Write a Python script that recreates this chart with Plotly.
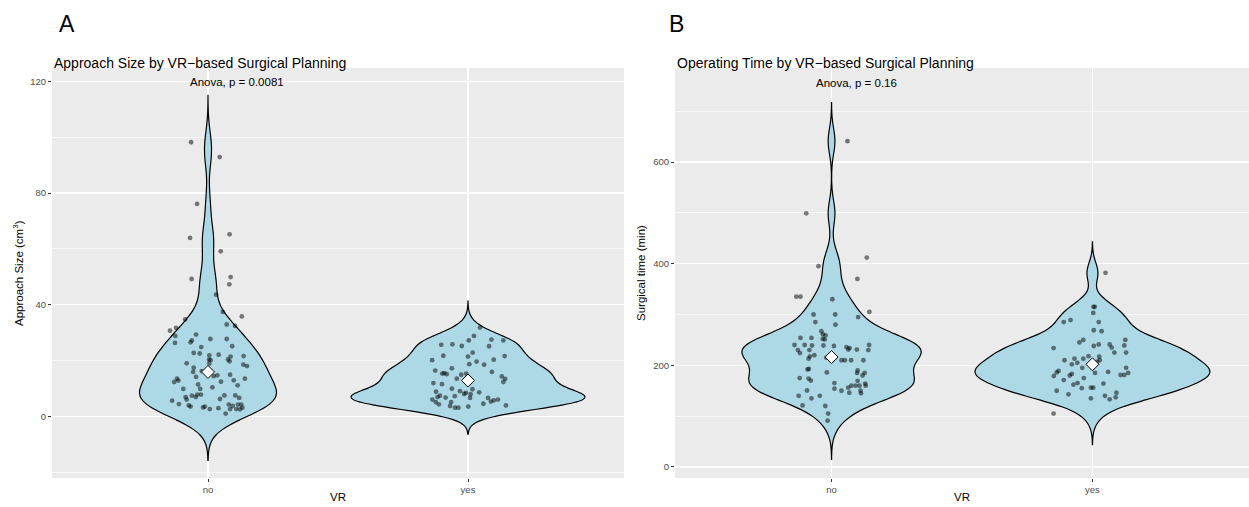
import numpy as np
import plotly.graph_objects as go

groups = ["no", "yes"]

# Panel A: approach size (cm^3)
approach_no = [98.2, 92.9, 76.1, 63.9, 65.2, 59.1, 49.2, 49.9, 47.3, 43.6,
               35.8, 34.7, 37.4, 30.7, 31.7, 28.8, 26.3, 32.9, 32.4, 29.3,
               27.2, 26.5, 27.7, 27.7, 25.1, 24.8, 22.7, 22.5, 21.8, 22.1,
               21.4, 21.6, 20.3, 20.1, 20.4, 19.7, 19.0, 18.9, 18.5, 18.0,
               17.4, 15.9, 16.2, 14.7, 14.4, 14.9, 13.5, 12.8, 12.3, 14.1,
               12.4, 12.9, 13.5, 11.4, 10.4, 11.1, 9.8, 9.8, 7.8, 7.8,
               7.4, 6.9, 6.0, 5.6, 6.9, 6.2, 7.5, 7.5, 6.6, 4.4,
               3.9, 3.5, 3.2, 3.5, 2.6, 2.9, 1.0, 4.2, 3.7, 2.6,
               4.2, 4.2, 3.1, 2.5, 2.6]
approach_no_jitter = [-0.065, 0.045, -0.042, -0.069, 0.083, 0.049, -0.063, 0.087, 0.082, 0.031,
                      0.130, -0.088, 0.057, -0.146, -0.123, -0.126, -0.127, 0.072, 0.104, -0.046,
                      -0.062, -0.067, 0.009, 0.072, 0.093, -0.026, -0.055, -0.032, 0.005, 0.041,
                      0.087, 0.137, 0.004, 0.010, 0.077, 0.083, -0.082, 0.005, 0.136, 0.150,
                      -0.055, -0.057, -0.024, 0.036, 0.022, 0.085, -0.119, -0.114, -0.130, -0.046,
                      0.050, 0.099, 0.142, -0.038, 0.017, 0.114, -0.095, -0.030, -0.041, -0.027,
                      -0.062, -0.086, -0.082, -0.138, -0.047, 0.046, 0.063, 0.105, 0.120, -0.112,
                      -0.074, -0.067, -0.019, -0.012, 0.007, 0.040, 0.068, 0.080, 0.095, 0.109,
                      0.115, 0.128, 0.132, 0.123, 0.085]
approach_yes = [31.8, 28.8, 27.2, 27.5, 27.2, 25.6, 25.8, 25.2, 25.1, 21.7,
                22.8, 21.4, 21.6, 20.1, 18.7, 19.6, 18.5, 20.3, 16.4, 17.2,
                15.3, 15.1, 14.9, 15.3, 15.9, 14.3, 13.4, 13.5, 13.7, 12.3,
                11.9, 11.5, 9.9, 9.0, 8.0, 8.4, 9.7, 7.9, 8.6, 8.8,
                6.9, 7.4, 6.7, 7.2, 6.6, 6.0, 5.1, 4.3, 5.1, 3.7,
                3.1, 3.1, 3.5, 4.5, 6.6, 5.3, 5.7, 6.0, 3.9, 15.5]
approach_yes_jitter = [0.046, 0.023, 0.003, 0.090, 0.136, -0.103, -0.060, -0.024, 0.081, -0.095,
                       0.018, 0.000, 0.141, -0.138, 0.005, 0.033, 0.062, 0.099, -0.126, -0.062,
                       -0.099, -0.082, -0.026, -0.007, 0.092, 0.130, 0.143, -0.043, 0.004, 0.136,
                       -0.133, -0.100, -0.062, -0.031, -0.015, -0.008, 0.017, 0.010, 0.043, -0.123,
                       -0.117, -0.108, -0.086, -0.051, 0.008, -0.137, -0.124, -0.112, -0.065, -0.069,
                       -0.050, -0.037, 0.001, 0.059, 0.077, 0.088, 0.099, 0.115, 0.146, -0.091]

# Panel B: surgical time (min)
time_no = [641, 499, 412, 395, 370, 335, 335, 330, 305, 300,
           300, 295, 285, 280, 267, 261, 259, 252, 251, 254,
           254, 240, 240, 239, 239, 238, 236, 234, 231, 231,
           240, 230, 230, 224, 230, 217.5, 213, 220, 215, 210,
           210, 210, 210, 192, 193, 186, 190, 185, 185, 180,
           175, 174, 170, 165, 169.5, 160, 160, 160, 164, 160,
           156, 154, 150, 146, 150, 145, 150.5, 140, 135, 140,
           121, 120, 105, 91]
time_no_jitter = [0.061, -0.097, 0.135, -0.050, 0.099, -0.135, -0.119, 0.003, 0.145, -0.069,
                  0.014, 0.102, -0.062, 0.015, -0.039, -0.033, -0.023, -0.034, -0.026, -0.119,
                  -0.077, -0.142, -0.103, -0.075, -0.031, 0.009, 0.057, 0.069, 0.064, 0.097,
                  0.144, 0.141, -0.129, -0.121, -0.085, -0.083, -0.088, -0.066, -0.020, 0.038,
                  0.051, 0.075, 0.122, -0.092, -0.087, -0.018, 0.100, 0.098, 0.127, 0.119,
                  -0.122, -0.088, -0.079, 0.011, 0.100, 0.076, 0.092, 0.107, 0.129, 0.131,
                  0.064, 0.011, 0.038, 0.068, 0.111, 0.113, -0.094, -0.126, -0.077, -0.045,
                  -0.111, -0.024, -0.013, -0.015]
time_yes = [382, 315, 315, 303, 285, 289, 285, 269, 267, 245,
            250, 250, 234, 238, 241, 241, 235, 239, 225, 225,
            210, 213, 205, 213, 218, 217, 210, 207, 202, 195,
            187, 195, 181, 181, 185, 185, 186, 189, 179, 180,
            183, 171, 175, 162, 165, 164, 155, 156, 156, 150,
            143, 135, 140, 133, 137, 146, 105]
time_yes_jitter = [0.050, 0.004, 0.009, 0.003, -0.110, -0.084, 0.024, 0.005, 0.035, -0.050,
                   -0.035, 0.126, -0.149, 0.005, 0.024, 0.066, 0.074, 0.122, 0.084, 0.129,
                   -0.107, -0.069, -0.058, -0.035, -0.015, 0.026, 0.028, 0.018, -0.079, -0.039,
                   0.060, 0.129, 0.108, 0.122, 0.137, 0.010, -0.137, -0.130, -0.148, -0.087,
                   -0.079, -0.110, -0.033, -0.073, -0.057, 0.042, -0.041, -0.006, 0.003, -0.137,
                   -0.092, -0.006, 0.048, 0.066, 0.089, 0.092, -0.149]

panel_titles = ["Approach Size by VR\u2212based Surgical Planning",
                "Operating Time by VR\u2212based Surgical Planning"]
panel_letters = ["A", "B"]
y_titles = ["Approach Size (cm<sup>3</sup>)", "Surgical time (min)"]
p_labels = ["Anova, p = 0.0081", "Anova, p = 0.16"]
y_ticks_a = [0, 40, 80, 120]
y_minor_a = [-20, 20, 60, 100]
y_ticks_b = [0, 200, 400, 600]
y_minor_b = [100, 300, 500, 700]

FONT = "Liberation Sans"
W, H = 1249, 507


def nrd0(x):
    x = np.asarray(x, float)
    sd = x.std(ddof=1)
    q75, q25 = np.percentile(x, [75, 25])
    lo = min(sd, (q75 - q25) / 1.34)
    return 0.9 * lo * len(x) ** (-0.2)


def max_density(x, bw):
    x = np.asarray(x, float)
    grid = np.linspace(x.min() - 3 * bw, x.max() + 3 * bw, 1024)
    d = np.exp(-0.5 * ((grid[:, None] - x[None, :]) / bw) ** 2).sum(1)
    d /= len(x) * bw * np.sqrt(2 * np.pi)
    return d.max()


fig = go.Figure()


def add_panel(data, jitters, xa, ya):
    bws = [nrd0(d) for d in data]
    mds = [max_density(d, b) for d, b in zip(data, bws)]
    mdmax = max(mds)
    for i, (vals, jit, bw, md) in enumerate(zip(data, jitters, bws, mds)):
        pos = i + 1
        v = np.asarray(vals, float)
        fig.add_trace(go.Violin(
            x=[pos] * len(v), y=v, orientation="v",
            bandwidth=bw, spanmode="manual", span=[v.min() - 3 * bw, v.max() + 3 * bw],
            width=0.9 * md / mdmax, scalemode="width",
            fillcolor="#ADD8E6", line=dict(color="black", width=1.2),
            points=False, box_visible=False, meanline_visible=False,
            hoverinfo="skip", showlegend=False, opacity=1,
            xaxis=xa, yaxis=ya))
        fig.add_trace(go.Scatter(
            x=pos + np.asarray(jit), y=v, mode="markers",
            marker=dict(size=4.8, color="rgba(0,0,0,0.5)", line=dict(width=0)),
            hoverinfo="skip", showlegend=False, xaxis=xa, yaxis=ya))
        fig.add_trace(go.Scatter(
            x=[pos], y=[np.median(v)], mode="markers",
            marker=dict(symbol="diamond", size=10, color="white",
                        line=dict(color="black", width=1)),
            hoverinfo="skip", showlegend=False, xaxis=xa, yaxis=ya))


add_panel([approach_no, approach_yes], [approach_no_jitter, approach_yes_jitter], "x", "y")
add_panel([time_no, time_yes], [time_no_jitter, time_yes_jitter], "x2", "y2")

ydom = [29 / H, 439 / H]
xdomA = [52 / W, 624 / W]
xdomB = [675 / W, 1.0]


def xaxis(dom, anchor):
    return dict(domain=dom, range=[0.4, 2.6], tickvals=[1, 2], ticktext=groups,
                showgrid=True, gridcolor="white", gridwidth=1.2, zeroline=False,
                ticks="outside", ticklen=3, tickwidth=1, tickcolor="#333333",
                tickfont=dict(family=FONT, size=9.5, color="#4D4D4D"),
                anchor=anchor, showline=False, fixedrange=True)


def yaxis(rng, ticks, minor, anchor):
    return dict(domain=ydom, range=rng, tickvals=ticks,
                showgrid=True, gridcolor="white", gridwidth=1.2, zeroline=False,
                ticks="outside", ticklen=3, tickwidth=1, tickcolor="#333333",
                tickfont=dict(family=FONT, size=9.5, color="#4D4D4D"),
                minor=dict(tickvals=minor, showgrid=True, gridcolor="white",
                           gridwidth=0.6, ticks=""),
                anchor=anchor, showline=False, fixedrange=True)


fig.update_layout(
    width=W, height=H,
    margin=dict(l=0, r=0, t=0, b=0),
    paper_bgcolor="white", plot_bgcolor="#EBEBEB",
    violinmode="overlay",
    font=dict(family=FONT, color="black"),
    xaxis=xaxis(xdomA, "y"),
    yaxis=yaxis([-22.1, 124.8], y_ticks_a, y_minor_a, "x"),
    xaxis2=xaxis(xdomB, "y2"),
    yaxis2=yaxis([-21.7, 785.0], y_ticks_b, y_minor_b, "x2"),
)

ann = []
letter_x = [57, 667]
title_x = [52, 675]
ytitle_x = [18, 641]
panel_center = [(52 + 624) / 2, (675 + 1249) / 2]
p_pos = [(1.11, 119.7), (1.096, 756)]
for i in range(2):
    ann.append(dict(text=panel_letters[i], x=letter_x[i] / W, y=1 - 24 / H,
                    xref="paper", yref="paper", xanchor="left", yanchor="middle",
                    showarrow=False, font=dict(family=FONT, size=23, color="black")))
    ann.append(dict(text=panel_titles[i], x=title_x[i] / W, y=1 - 63 / H,
                    xref="paper", yref="paper", xanchor="left", yanchor="middle",
                    showarrow=False, font=dict(family=FONT, size=14, color="black")))
    ann.append(dict(text=y_titles[i], x=ytitle_x[i] / W, y=1 - 273 / H,
                    xref="paper", yref="paper", xanchor="center", yanchor="middle",
                    textangle=-90, showarrow=False,
                    font=dict(family=FONT, size=11.5, color="black")))
    ann.append(dict(text="VR", x=panel_center[i] / W, y=1 - 497 / H,
                    xref="paper", yref="paper", xanchor="center", yanchor="middle",
                    showarrow=False, font=dict(family=FONT, size=11.5, color="black")))
    xr = "x" if i == 0 else "x2"
    yr = "y" if i == 0 else "y2"
    ann.append(dict(text=p_labels[i], x=p_pos[i][0], y=p_pos[i][1], xref=xr, yref=yr,
                    xanchor="center", yanchor="middle", showarrow=False,
                    font=dict(family=FONT, size=11.5, color="black")))
fig.update_layout(annotations=ann)

fig.write_html(
    "out.html",
    config={"displayModeBar": False, "staticPlot": True},
    post_script="document.body.style.margin='0px';document.body.style.overflow='hidden';",
)
